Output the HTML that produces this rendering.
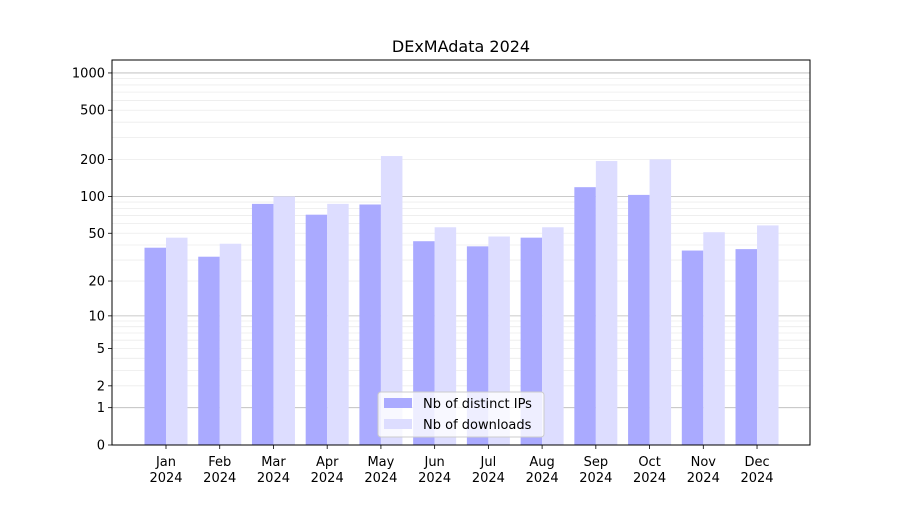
<!DOCTYPE html>
<html><head><meta charset="utf-8"><style>
body{margin:0;background:#fff;font-family:"Liberation Sans","DejaVu Sans",sans-serif}
svg text{font-family:"DejaVu Sans","Liberation Sans",sans-serif}
</style></head><body>
<svg id="c" width="900" height="500"></svg>
<script>
const months=["Jan","Feb","Mar","Apr","May","Jun","Jul","Aug","Sep","Oct","Nov","Dec"];
const ips=[38,32,87,71,86,43,39,46,119,103,36,37];
const downloads=[46,41,100,87,213,56,47,56,194,200,51,58];
const yTicks=[0,1,2,5,10,20,50,100,200,500,1000];
const NS="http://www.w3.org/2000/svg";
const svg=document.getElementById('c');
const L=112,R=810,T=60,B=445;
function y(v){return B-124*Math.log10(v+1);}
const step=(R-L)/(months.length+0.0);
function xc(i){return 166+i*53.73;}
function mk(t,a,p){const e=document.createElementNS(NS,t);for(const k in a)e.setAttribute(k,a[k]);(p||svg).appendChild(e);return e;}
// minor grid
const minor=[];for(let d=1;d<=1000;d*=10)for(let m=2;m<=9;m++)minor.push(m*d);
minor.forEach(v=>{if(y(v)>T){const l=mk('line',{x1:L,x2:R,y1:y(v),y2:y(v),stroke:'#ececec','stroke-width':0.8});

}});
[1,10,100,1000].forEach(v=>{const l=mk('line',{x1:L,x2:R,y1:y(v),y2:y(v),stroke:'#b8b8b8','stroke-width':0.8});

});
const bw=21.5;
months.forEach((m,i)=>{
 const a=mk('rect',{x:xc(i)-bw,y:y(ips[i]),width:bw,height:B-y(ips[i]),fill:'#aaaaff'});
 
 
 const b=mk('rect',{x:xc(i),y:y(downloads[i]),width:bw,height:B-y(downloads[i]),fill:'#ddddff'});
 
 
 mk('line',{x1:xc(i),x2:xc(i),y1:B,y2:B+4,stroke:'#000','stroke-width':0.8});
 const t=mk('text',{x:xc(i),y:B+21,'font-size':13,'text-anchor':'middle'});t.textContent=m;
 
 
 const t2=mk('text',{x:xc(i),y:B+37,'font-size':13,'text-anchor':'middle'});t2.textContent='2024';
 
 
});
yTicks.forEach(v=>{
 mk('line',{x1:L-4,x2:L,y1:y(v),y2:y(v),stroke:'#000','stroke-width':0.8});
 const t=mk('text',{x:L-7,y:y(v)+4.5,'font-size':13,'text-anchor':'end'});t.textContent=v;
 
 
});
const f=mk('rect',{x:L,y:T,width:R-L,height:B-T,fill:'none',stroke:'#000','stroke-width':1});


const title=mk('text',{x:(L+R)/2,y:52,'font-size':16,'text-anchor':'middle'});title.textContent='DExMAdata 2024';


// legend
const g=mk('g',{});


mk('rect',{x:378,y:392,width:166,height:45,rx:3,fill:'#fff','fill-opacity':0.8,stroke:'#ccc'},g);
mk('rect',{x:384,y:398,width:28,height:10,fill:'#aaaaff'},g);
mk('rect',{x:384,y:419,width:28,height:10,fill:'#ddddff'},g);
const l1=mk('text',{x:423,y:408,'font-size':13},g);l1.textContent='Nb of distinct IPs';


const l2=mk('text',{x:423,y:429,'font-size':13},g);l2.textContent='Nb of downloads';


</script>
</body></html>
